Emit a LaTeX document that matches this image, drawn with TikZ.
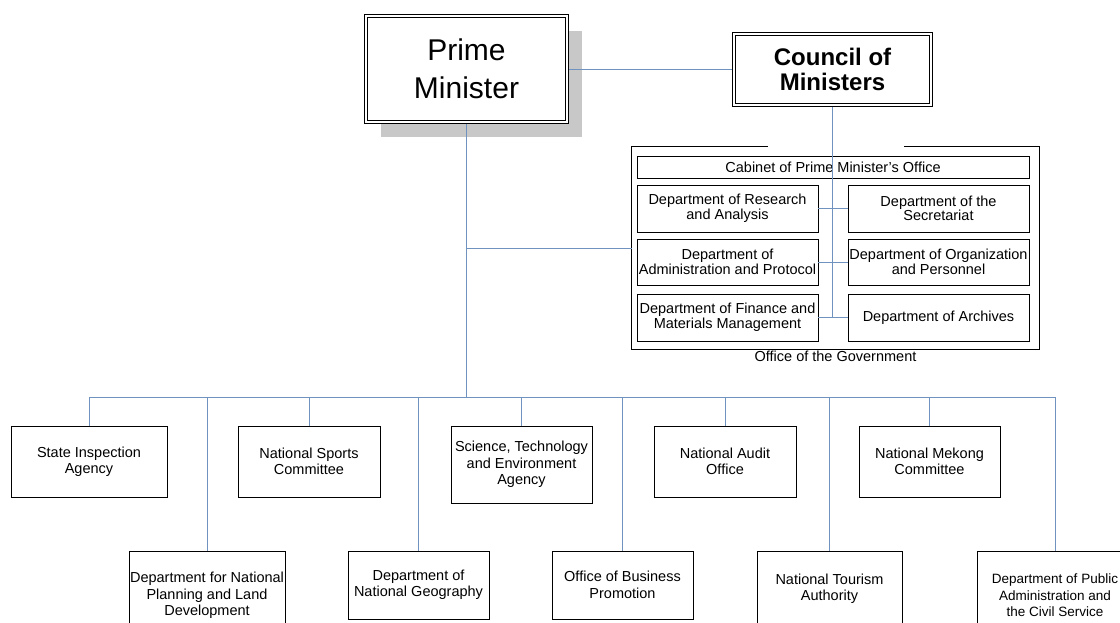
\documentclass[tikz,border=0pt]{standalone}
\usepackage{fontspec}
\setmainfont{Liberation Sans}
\usetikzlibrary{positioning,shadows}
\definecolor{linkblue}{RGB}{112,146,190}
\definecolor{shadowgrey}{RGB}{200,200,200}

\begin{document}
\begin{tikzpicture}[x=1pt, y=-1pt,
  head/.style={draw, double, line width=0.9pt, double distance=1.8pt, outer sep=2.2pt,
    align=center, inner sep=0pt, fill=white},
  unit/.style={draw, line width=0.9pt, align=center, inner sep=1pt,
    font=\fontsize{14.5}{16.5}\selectfont},
  dept/.style={unit, font=\fontsize{14.5}{13.5}\selectfont},
  link/.style={draw=linkblue, line width=0.9pt}]
  \useasboundingbox (0,0) rectangle (1120,623);

  % Heads
  \node[head, minimum width=201pt, minimum height=106pt, font=\fontsize{30}{38}\selectfont,
    drop shadow={shadow xshift=15pt, shadow yshift=-15pt, fill=shadowgrey, opacity=1}]
    (pm) at (466.5,69) {Prime\\Minister};
  \node[head, minimum width=197pt, minimum height=71pt, font=\bfseries\fontsize{24}{24.5}\selectfont]
    (council) at (832.5,69.5) {Council of\\Ministers};

  % Office of the Government
  \node[minimum width=407pt, minimum height=202pt, inner sep=0pt] (gov) at (835.5,248) {};
  \node[dept, minimum width=392pt, minimum height=22pt] (cab) at (833,167) {Cabinet of Prime Minister's Office};
  \node[dept, minimum width=181pt, minimum height=47pt] (res) at (727.5,208.5) {Department of Research\\and Analysis};
  \node[dept, minimum width=181pt, minimum height=47pt] (sec) at (938.5,208.5) {Department of the\\Secretariat};
  \node[dept, minimum width=181pt, minimum height=46pt] (adm) at (727.5,262) {Department of\\Administration and Protocol};
  \node[dept, minimum width=181pt, minimum height=46pt] (org) at (938.5,262) {Department of Organization\\and Personnel};
  \node[dept, minimum width=181pt, minimum height=47pt] (fin) at (727.5,317.5) {Department of Finance and\\Materials Management};
  \node[dept, minimum width=181pt, minimum height=47pt] (arc) at (938.5,317.5) {Department of Archives};
  \node[below=2pt of gov, inner sep=0pt, font=\fontsize{14.5}{16.5}\selectfont] (govlbl) {Office of the Government};
  \draw[line width=0.9pt] ([xshift=-68pt]gov.north) -| (gov.south west) -| (gov.north east) -- ([xshift=68pt]gov.north);

  % Agencies, upper row
  \node[unit, minimum width=156pt, minimum height=71pt] (sia) at (89,461.5) {State Inspection\\Agency};
  \node[unit, minimum width=142pt, minimum height=71pt] (sports) at (309,461.5) {National Sports\\Committee};
  \node[unit, minimum width=141pt, minimum height=77pt] (sci) at (521.5,464.5) {Science, Technology\\and Environment\\Agency};
  \node[unit, minimum width=142pt, minimum height=71pt] (audit) at (725,461.5) {National Audit\\Office};
  \node[unit, minimum width=141pt, minimum height=71pt] (mekong) at (929.5,461.5) {National Mekong\\Committee};

  % Agencies, lower row
  \node[unit, minimum width=156pt, minimum height=89pt] (plan) at (207,595.5) {Department for National\\Planning and Land\\Development};
  \node[unit, minimum width=141pt, minimum height=68pt] (geo) at (418.5,585) {Department of\\National Geography};
  \node[unit, minimum width=141pt, minimum height=68pt] (biz) at (622.5,585) {Office of Business\\Promotion};
  \node[unit, minimum width=145pt, minimum height=75pt] (tour) at (829.5,588.5) {National Tourism\\Authority};
  \node[unit, minimum width=156pt, minimum height=89pt, font=\fontsize{13.5}{16.5}\selectfont]
    (pub) at (1055,595.5) {Department of Public\\Administration and\\the Civil Service};

  % Links
  \coordinate (bus) at (466.5,397);
  \draw[link] (pm.east |- council.west) -- (council.west);
  \draw[link] (council.south) -- (council.south |- fin.east);
  \draw[link] (res.east) -- (sec.west);
  \draw[link] (adm.east) -- (org.west);
  \draw[link] (fin.east) -- (arc.west);
  \draw[link] (pm.south) -- (bus);
  \draw[link] (pm.south |- gov.west) -- (gov.west);
  \draw[link] (bus -| sia.north) -- (bus -| pub.north);
  \foreach \n in {sia,plan,sports,geo,sci,biz,audit,tour,mekong,pub}
    \draw[link] (bus -| \n.north) -- (\n.north);
\end{tikzpicture}
\end{document}
